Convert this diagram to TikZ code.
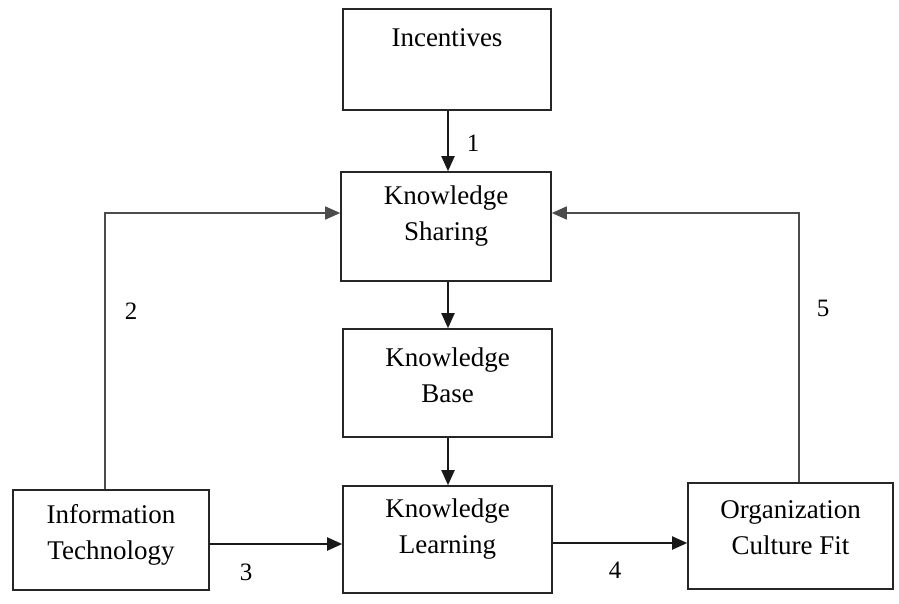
\documentclass[tikz,border=0pt]{standalone}
\usepackage{fontspec}
\setmainfont{Liberation Serif}
\usetikzlibrary{arrows.meta}
\begin{document}
\begin{tikzpicture}[x=1pt,y=-1pt,
  box/.style={draw=black!85, line width=1.6pt, minimum width=#1, inner sep=0pt},
  lbl/.style={align=center, font=\fontsize{27}{36}\selectfont, inner sep=0pt},
  num/.style={font=\fontsize{25}{30}\selectfont, inner sep=0pt},
  arr/.style={draw=black!90, line width=1.9pt, -{Triangle[length=15pt,width=13pt]}},
  lnk/.style={arr, line width=1.5pt, draw=black!70}]
  \useasboundingbox (0,0) rectangle (899,603);

  % boxes
  \node[box=208pt, minimum height=101pt] (inc) at (447,59.5) {};
  \node[box=210pt, minimum height=109pt] (ks)  at (446,226.5) {};
  \node[box=209pt, minimum height=108pt] (kb)  at (447.5,383) {};
  \node[box=209pt, minimum height=107pt] (kl)  at (447.5,539.5) {};
  \node[box=196pt, minimum height=100pt] (it)  at (111,540) {};
  \node[box=205pt, minimum height=106pt] (ocf) at (790.5,536) {};

  % box texts
  \node[lbl] (inct) at ([yshift=22pt]inc.center) {Incentives};
  \node[lbl] (kst)  at ([yshift=10pt]ks.center)  {Knowledge\\Sharing};
  \node[lbl] (kbt)  at ([yshift=8pt]kb.center)   {Knowledge\\Base};
  \node[lbl] (klt)  at ([yshift=10pt]kl.center)  {Knowledge\\Learning};
  \node[lbl] (itt)  at ([yshift=5pt]it.center)   {Information\\Technology};
  \node[lbl] (ocft) at ([yshift=8pt]ocf.center)  {Organization\\Culture Fit};

  % elbow and lane coordinates
  \coordinate (c2) at (105,213);
  \coordinate (c5) at (799,213);
  \coordinate (c3) at (0,544);
  \coordinate (c4) at (0,543);

  % connectors
  \draw[arr] (inc.south -| 448,0) -- (ks.north -| 448,0);
  \draw[arr] (ks.south -| 448,0) -- (kb.north -| 448,0);
  \draw[arr] (kb.south -| 448,0) -- (kl.north -| 448,0);
  \draw[lnk] (it.north -| c2) |- (ks.west |- c2);
  \draw[lnk] (ocf.north -| c5) |- (ks.east |- c5);
  \draw[arr] (it.east |- c3) -- (kl.west |- c3);
  \draw[arr] (kl.east |- c4) -- (ocf.west |- c4);

  % connector numbers
  \node[num] (n1) at (473,143) {1};
  \node[num] (n2) at (131,311) {2};
  \node[num] (n3) at (246,572) {3};
  \node[num] (n4) at (615,570) {4};
  \node[num] (n5) at (823,308) {5};
\end{tikzpicture}
\end{document}
